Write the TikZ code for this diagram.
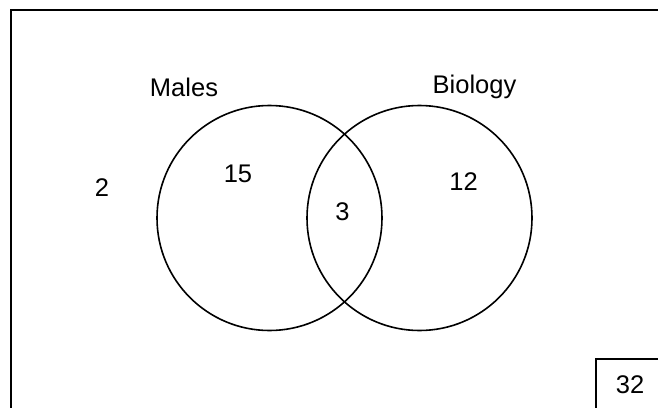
\documentclass[tikz,border=0pt]{standalone}
\usepackage{fontspec}
\setmainfont{Liberation Sans}
\begin{document}
\begin{tikzpicture}[x=1pt,y=-1pt,
  lbl/.style={anchor=base,inner sep=0pt,font=\fontsize{25.5}{30}\selectfont},
  setcircle/.style={circle,draw,line width=1.6pt,minimum size=225pt,inner sep=0pt},
  frame/.style={draw,line width=2pt}]
  \useasboundingbox (0,0) rectangle (658,407);
  \clip (0,0) rectangle (658,407);
  % universal set frame
  \draw[frame] (11,10) rectangle (680,430);
  % the two sets
  \node[setcircle] (males) at (269.5,218) {};
  \node[setcircle] (bio) at (419.5,218) {};
  % set titles
  \node[lbl] (tmales) at (184,96) {Males};
  \node[lbl] (tbio) at (474.5,93.5) {Biology};
  % region counts
  \node[lbl] (nout) at (102,196.5) {2};
  \node[lbl] (nmale) at (238,182) {15};
  \node[lbl] (nboth) at (342.5,220) {3};
  \node[lbl] (nbio) at (463.5,190) {12};
  % total box
  \node[frame,line width=1.6pt,anchor=north west,minimum width=80pt,minimum height=70pt,inner sep=0pt] (totbox) at (595,358) {};
  \node[lbl] (ntot) at (630,393) {32};
\end{tikzpicture}
\end{document}
